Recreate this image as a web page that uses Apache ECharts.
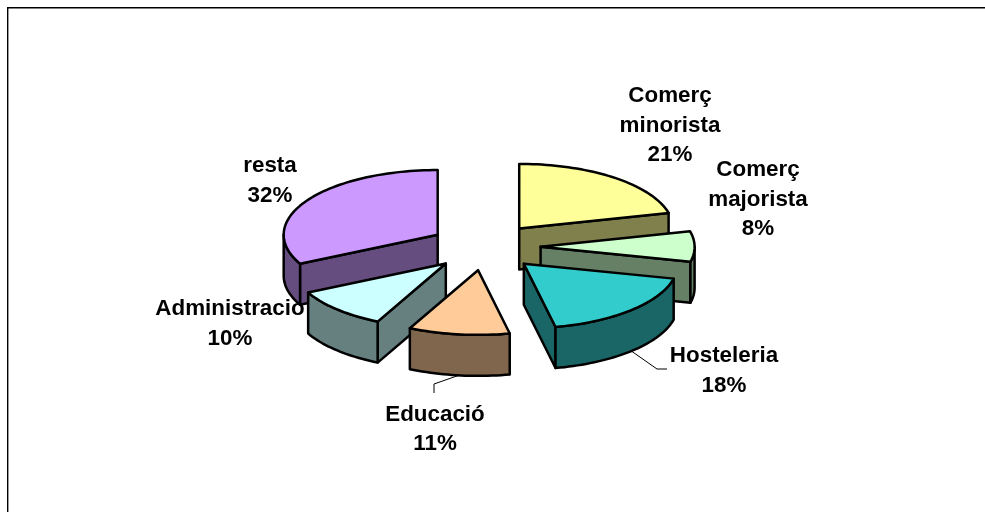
<!DOCTYPE html>
<html>
<head>
<meta charset="utf-8">
<title>Pie</title>
<style type="text/css">
    html, body { margin: 0; padding: 0; background: #fff; }
    #main { width: 985px; height: 512px; }
</style>
</head>
<body>
<div id="main"></div>
<script src="https://cdn.jsdelivr.net/npm/echarts@6/dist/echarts.min.js"></script>
<script>
    // values, clockwise from 12 o'clock (labels show them rounded)
    var categories = ['Comerç\nminorista', 'Comerç\nmajorista', 'Hosteleria', 'Educació', 'Administracio', 'resta'];
    var percents = [21.1, 7.6, 18, 10.6, 10.3, 32.4];
    var topColors = ['#FFFF99', '#CCFFCC', '#33CCCC', '#FFCC99', '#CCFFFF', '#CC99FF'];
    var sideColors = ['#80804D', '#668066', '#1A6666', '#80664D', '#668080', '#664D80'];

    // label centres and leader elbows
    var labelPos = [[670, 125.5], [758, 199.5], [724, 371], [435, 429.5], [230, 324], [270, 181]];
    var leaderEnds = [null, null, [[657, 369], [667, 369]], [[434, 384], [434, 393]], null, null];

    // fake 3d projection of the pie
    var cx = 485, cy = 247, rx = 154, ry = 64.7, depth = 41, explode = 55.6;
    var total = percents.reduce(function (a, b) { return a + b; }, 0);

    function rad(pct) {
        return pct / total * Math.PI * 2;
    }
    function rimPoint(apex, a, drop) {
        return [apex[0] + rx * Math.sin(a), apex[1] - ry * Math.cos(a) + drop];
    }
    function arcPoints(apex, a0, a1, drop) {
        var pts = [], n = Math.max(2, Math.ceil((a1 - a0) / 0.03));
        for (var i = 0; i <= n; i++) {
            pts.push(rimPoint(apex, a0 + (a1 - a0) * i / n, drop));
        }
        return pts;
    }
    function face(points, fill, z2) {
        return {
            type: 'polygon',
            z2: z2,
            shape: { points: points },
            style: { fill: fill, stroke: '#000', lineWidth: 2.5, lineJoin: 'round' }
        };
    }

    function sliceApex(i) {
        var before = percents.slice(0, i).reduce(function (a, b) { return a + b; }, 0);
        var a0 = rad(before), a1 = rad(before + percents[i]), mid = (a0 + a1) / 2;
        return {
            a0: a0,
            a1: a1,
            mid: mid,
            apex: [cx + explode * Math.sin(mid), cy - explode * ry / rx * Math.cos(mid)]
        };
    }

    // paint from back to front, z2 follows the apex height
    function renderSlice(params, api) {
        var i = api.value(0);
        var s = sliceApex(i);
        var z = Math.round(s.apex[1]) * 10;
        var kids = [];
        var bottomApex = [s.apex[0], s.apex[1] + depth];

        // start wall
        if (Math.sin(s.a0) < -0.001) {
            kids.push(face([s.apex, rimPoint(s.apex, s.a0, 0), rimPoint(s.apex, s.a0, depth), bottomApex], sideColors[i], z));
        }
        // end wall
        if (Math.sin(s.a1) > 0.001) {
            kids.push(face([s.apex, rimPoint(s.apex, s.a1, 0), rimPoint(s.apex, s.a1, depth), bottomApex], sideColors[i], z));
        }
        // outer rim, front half only
        var f0 = Math.max(s.a0, Math.PI / 2), f1 = Math.min(s.a1, Math.PI * 1.5);
        if (f1 > f0) {
            kids.push(face(arcPoints(s.apex, f0, f1, 0).concat(arcPoints(s.apex, f0, f1, depth).reverse()), sideColors[i], z + 1));
        }
        // top
        kids.push(face([s.apex].concat(arcPoints(s.apex, s.a0, s.a1, 0)), topColors[i], z + 2));

        // leader line
        if (leaderEnds[i]) {
            kids.push({
                type: 'polyline',
                z2: z + 3,
                shape: { points: [rimPoint(s.apex, s.mid, depth)].concat(leaderEnds[i]) },
                style: { fill: null, stroke: '#000', lineWidth: 1 }
            });
        }
        // label
        kids.push({
            type: 'text',
            z2: 10000,
            style: {
                x: labelPos[i][0],
                y: labelPos[i][1],
                text: categories[i] + '\n' + Math.round(percents[i]) + '%',
                fill: '#000',
                font: 'bold 22.4px "Liberation Sans", Arial, sans-serif',
                lineHeight: 29.5,
                align: 'center',
                verticalAlign: 'middle'
            }
        });
        return { type: 'group', children: kids };
    }

    var myChart = echarts.init(document.getElementById('main'));
    var option = {
        animation: false,
        backgroundColor: '#fff',
        graphic: [{
            type: 'rect',
            silent: true,
            shape: { x: 7.7, y: 7.7, width: 1100, height: 600 },
            style: { fill: null, stroke: '#000', lineWidth: 1.4 }
        }],
        series: [{
            type: 'custom',
            coordinateSystem: 'none',
            silent: true,
            data: percents.map(function (v, i) { return [i, v]; }),
            renderItem: renderSlice
        }]
    };
    myChart.setOption(option);
</script>
</body>
</html>
